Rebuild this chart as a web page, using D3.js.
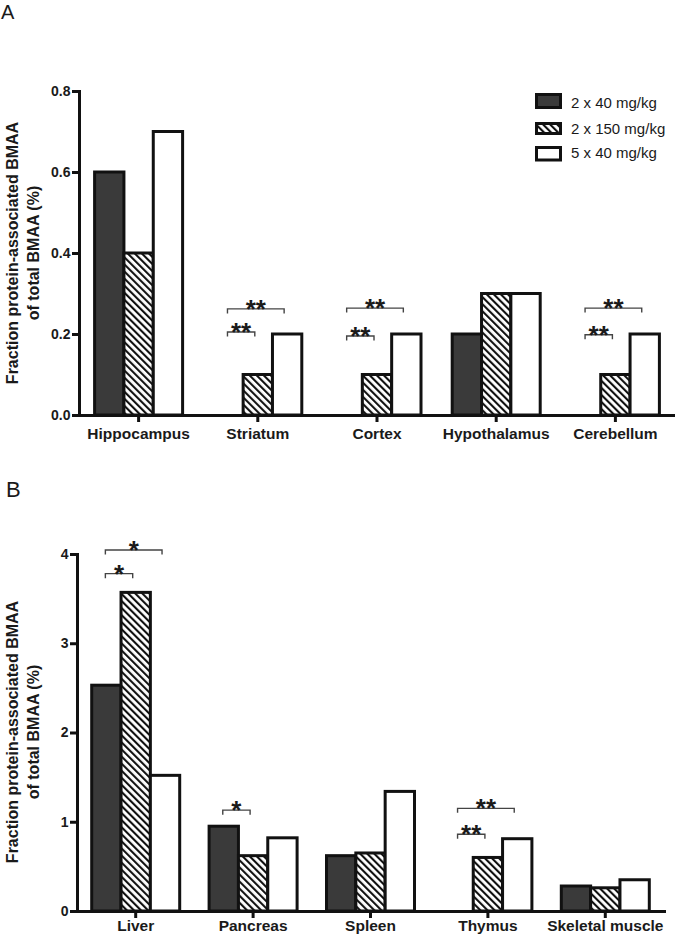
<!DOCTYPE html>
<html>
<head>
<meta charset="utf-8">
<script src="https://cdn.jsdelivr.net/npm/d3@7"></script>
<style>
  html, body { margin: 0; padding: 0; background: #fff; }
  svg { display: block; }
  text { font-family: "Liberation Sans", Arial, Helvetica, sans-serif; fill: #1a1a1a; }
</style>
</head>
<body>
<svg id="chart" width="675" height="936"></svg>
<script>
// ---------- data ----------
const seriesNames = ["2 x 40 mg/kg", "2 x 150 mg/kg", "5 x 40 mg/kg"];

const brainRegions = ["Hippocampus", "Striatum", "Cortex", "Hypothalamus", "Cerebellum"];
const brain2x40  = [0.6, 0.0, 0.0, 0.2, 0.0];
const brain2x150 = [0.4, 0.1, 0.1, 0.3, 0.1];
const brain5x40  = [0.7, 0.2, 0.2, 0.3, 0.2];
const brainTicks = [0, 0.2, 0.4, 0.6, 0.8];

const organs = ["Liver", "Pancreas", "Spleen", "Thymus", "Skeletal muscle"];
const organ2x40  = [2.53, 0.95, 0.62, 0.0, 0.28];
const organ2x150 = [3.57, 0.62, 0.65, 0.60, 0.26];
const organ5x40  = [1.52, 0.82, 1.34, 0.81, 0.35];
const organTicks = [0, 1, 2, 3, 4];

// significance brackets: category, from series, to series, level (data units), label
const brainSig = [
  { cat: "Striatum",   from: 0, to: 2, level: 0.262, label: "**" },
  { cat: "Striatum",   from: 0, to: 1, level: 0.205, label: "**" },
  { cat: "Cortex",     from: 0, to: 2, level: 0.264, label: "**" },
  { cat: "Cortex",     from: 0, to: 1, level: 0.195, label: "**" },
  { cat: "Cerebellum", from: 0, to: 2, level: 0.264, label: "**" },
  { cat: "Cerebellum", from: 0, to: 1, level: 0.198, label: "**" }
];
const organSig = [
  { cat: "Liver",    from: 0, to: 2, level: 4.045, label: "*" },
  { cat: "Liver",    from: 0, to: 1, level: 3.78,  label: "*" },
  { cat: "Pancreas", from: 0, to: 1, level: 1.13,  label: "*" },
  { cat: "Thymus",   from: 0, to: 2, level: 1.15,  label: "**" },
  { cat: "Thymus",   from: 0, to: 1, level: 0.86,  label: "**" }
];

// ---------- drawing ----------
const svg = d3.select("#chart");
const defs = svg.append("defs");
const pat = defs.append("pattern")
  .attr("id", "hatch")
  .attr("patternUnits", "userSpaceOnUse")
  .attr("width", 5).attr("height", 5)
  .attr("patternTransform", "rotate(-45)");
pat.append("rect").attr("width", 5).attr("height", 5).attr("fill", "#fff");
pat.append("rect").attr("x", 0).attr("y", 0).attr("width", 2.1).attr("height", 5).attr("fill", "#111");

const fills = ["#3a3a3a", "url(#hatch)", "#ffffff"];

function panel(opts) {
  const { cats, series, ticks, yDomain, yRange, xRange, sig, letter, letterY, fmt } = opts;
  const g = svg.append("g");

  const x = d3.scaleBand().domain(cats).range(xRange).paddingInner(0).paddingOuter(0);
  const inner = d3.scaleBand().domain(d3.range(series.length)).range([-44, 44]).padding(0);
  const y = d3.scaleLinear().domain(yDomain).range(yRange);

  // bars
  const rows = [];
  cats.forEach((c, i) => series.forEach((s, j) => rows.push({ c, j, v: s[i] })));
  g.append("g").selectAll("rect").data(rows).join("rect")
    .attr("x", d => x(d.c) + x.bandwidth() / 2 + inner(d.j))
    .attr("width", inner.bandwidth())
    .attr("y", d => y(d.v))
    .attr("height", d => y(0) - y(d.v))
    .attr("fill", d => fills[d.j])
    .attr("stroke", "#111")
    .attr("stroke-width", 3);

  // x axis
  const xAxis = g.append("g")
    .attr("transform", `translate(0,${y(0)})`)
    .call(d3.axisBottom(x).tickSize(7).tickSizeOuter(0).tickPadding(opts.xPad));
  xAxis.select(".domain").attr("stroke", "#111").attr("stroke-width", 3).attr("stroke-linecap", "square");
  xAxis.selectAll(".tick line").attr("stroke", "#111").attr("stroke-width", 3);
  xAxis.selectAll(".tick text").attr("font-size", 15.5).attr("font-weight", "bold")
    .style("font-family", "'Liberation Sans', Arial, sans-serif").attr("fill", "#1a1a1a");

  // y axis
  const yAxis = g.append("g")
    .attr("transform", `translate(${xRange[0]},0)`)
    .call(d3.axisLeft(y).tickValues(ticks).tickFormat(fmt).tickSize(7).tickSizeOuter(0).tickPadding(1.5));
  yAxis.select(".domain").attr("stroke", "#111").attr("stroke-width", 3).attr("stroke-linecap", "square");
  yAxis.selectAll(".tick line").attr("stroke", "#111").attr("stroke-width", 3);
  yAxis.selectAll(".tick text").attr("font-size", 14).attr("font-weight", "bold")
    .style("font-family", "'Liberation Sans', Arial, sans-serif").attr("fill", "#1a1a1a");

  // y label (two lines)
  [["Fraction protein-associated BMAA", 17.5], ["of total BMAA (%)", 39]].forEach(([t, bx]) => {
    g.append("text")
      .attr("transform", `translate(${bx},${opts.labelY}) rotate(-90)`)
      .attr("text-anchor", "middle")
      .attr("font-size", 16).attr("font-weight", "bold")
      .text(t);
  });

  // significance brackets
  const sg = g.append("g");
  sig.forEach(s => {
    const cx = x(s.cat) + x.bandwidth() / 2;
    const x1 = cx + inner(s.from) + inner.bandwidth() / 2 - 1;
    const x2 = cx + inner(s.to) + inner.bandwidth() / 2 - 3;
    const yy = y(s.level);
    sg.append("path")
      .attr("d", `M${x1},${yy + 4.5}V${yy}H${x2}V${yy + 4.5}`)
      .attr("fill", "none").attr("stroke", "#444").attr("stroke-width", 1.4);
    sg.append("text")
      .attr("x", (x1 + x2) / 2).attr("y", yy + 9)
      .attr("text-anchor", "middle")
      .attr("font-size", 26).attr("font-weight", "bold")
      .text(s.label);
  });

  // panel letter
  svg.append("text").attr("x", opts.letterX).attr("y", letterY)
    .attr("font-size", opts.letterSize).text(letter);
  return g;
}

panel({
  cats: brainRegions, series: [brain2x40, brain2x150, brain5x40], ticks: brainTicks,
  yDomain: [0, 0.8], yRange: [415, 91], xRange: [79, 675], sig: brainSig, xPad: 5.5,
  letter: "A", letterX: 1, letterY: 19, letterSize: 20, labelY: 253, fmt: d3.format(".1f")
});
panel({
  cats: organs, series: [organ2x40, organ2x150, organ5x40], ticks: organTicks,
  yDomain: [0, 4], yRange: [911, 554], xRange: [77, 664], sig: organSig, xPad: 1.5,
  letter: "B", letterX: 6, letterY: 497, letterSize: 22, labelY: 732, fmt: d3.format("d")
});

// legend
const legend = svg.append("g");
const legRects = [{ y: 94.5, h: 13 }, { y: 123.5, h: 10 }, { y: 147.5, h: 12.5 }];
const legText = [107.5, 134, 158.3];
seriesNames.forEach((n, j) => {
  legend.append("rect")
    .attr("x", 536.5).attr("y", legRects[j].y)
    .attr("width", 24).attr("height", legRects[j].h)
    .attr("fill", fills[j]).attr("stroke", "#111").attr("stroke-width", 3);
  legend.append("text")
    .attr("x", 571).attr("y", legText[j])
    .attr("font-size", 15)
    .text(n);
});
</script>
</body>
</html>
